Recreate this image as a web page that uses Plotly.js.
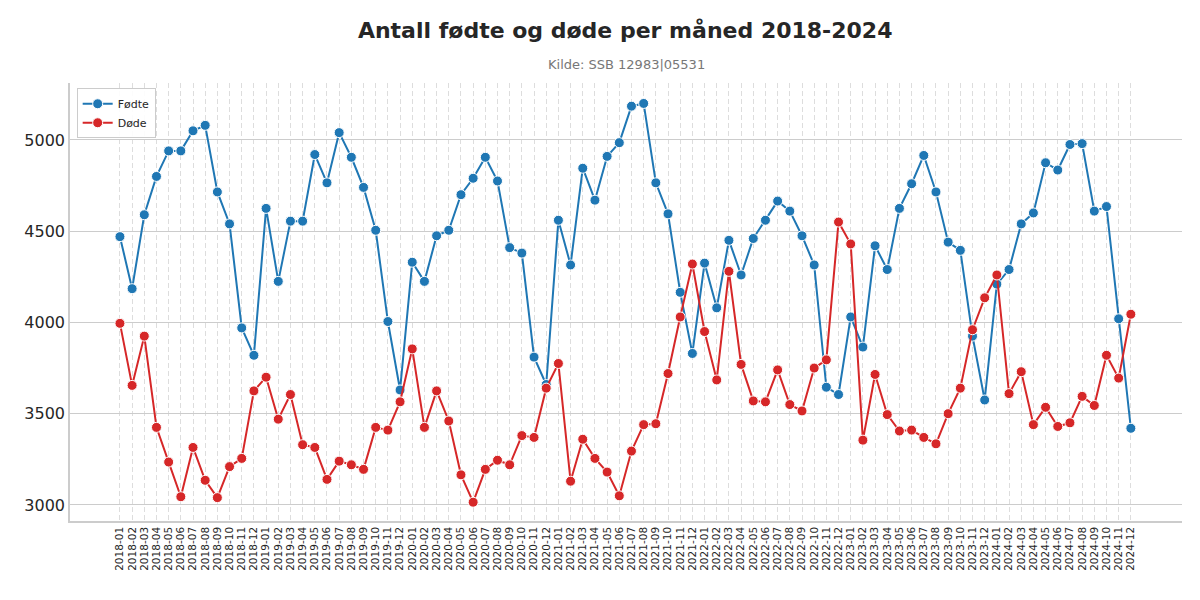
<!DOCTYPE html>
<html>
<head>
<meta charset="utf-8">
<script src="https://cdn.plot.ly/plotly-3.0.1.min.js"></script>
<style>html,body{margin:0;padding:0;background:#fff;}#chart{width:1200px;height:600px;}</style>
</head>
<body>
<div id="chart"></div>
<script>
const months = [];
for (let y = 2018; y <= 2024; y++) for (let m = 1; m <= 12; m++) months.push(y + "-" + String(m).padStart(2, "0"));

const births = [
  4470,4185,4590,4800,4940,4940,5050,5080,4715,4540,3970,3820,
  4625,4225,4555,4555,4920,4765,5040,4905,4740,4505,4005,3630,
  4330,4225,4475,4505,4700,4790,4905,4775,4410,4380,3810,3660,
  4560,4315,4845,4670,4910,4985,5185,5200,4765,4595,4165,3830,
  4325,4080,4450,4260,4460,4560,4665,4610,4475,4315,3645,3605,
  4030,3865,4420,4290,4625,4760,4915,4715,4440,4395,3925,3575,
  4210,4290,4540,4600,4875,4835,4975,4980,4610,4635,4020,3420
];
const deaths = [
  3995,3655,3925,3425,3235,3045,3315,3135,3040,3210,3255,3625,
  3700,3470,3605,3330,3315,3140,3240,3220,3195,3425,3410,3565,
  3855,3425,3625,3460,3165,3015,3195,3245,3220,3380,3370,3640,
  3775,3130,3360,3255,3180,3050,3295,3440,3445,3720,4030,4320,
  3950,3685,4280,3770,3570,3565,3740,3550,3515,3750,3795,4550,
  4430,3355,3715,3495,3405,3410,3370,3335,3500,3640,3960,4135,
  4260,3610,3730,3440,3535,3430,3450,3595,3545,3820,3695,4045
];
const yTicks = [3000, 3500, 4000, 4500, 5000];

const mk = (name, y, color) => ({
  type: "scatter", mode: "lines+markers", name: name,
  x: months, y: y,
  line: {color: color, width: 2},
  marker: {color: color, size: 10, line: {color: "#fff", width: 1}}
});

const data = [mk("Fødte", births, "#1f77b4"), mk("Døde", deaths, "#d62728")];

const layout = {
  width: 1200, height: 600,
  margin: {l: 70, r: 18, t: 83, b: 79},
  paper_bgcolor: "#fff", plot_bgcolor: "#fff",
  font: {family: "DejaVu Sans", color: "#262626"},
  title: {text: "<b>Antall fødte og døde per måned 2018-2024</b>", x: 0.521, xanchor: "center", y: 0.95, yanchor: "middle",
          font: {size: 22, color: "#262626"}},
  annotations: [{text: "Kilde: SSB 12983|05531", xref: "paper", yref: "paper", x: 0.5, y: 1.043, xanchor: "center", yanchor: "middle",
                 showarrow: false, font: {size: 13, color: "#777"}}],
  xaxis: {
    type: "category", range: [-4.1, 87.2], tickangle: -90, tickfont: {size: 10.5, color: "#262626"},
    tickmode: "array", tickvals: months, ticktext: months,
    showgrid: true, gridcolor: "#dddddd", griddash: "5px,3px", gridwidth: 1,
    showline: true, linecolor: "#cccccc", linewidth: 1.5, ticks: "", zeroline: false
  },
  yaxis: {
    range: [2912, 5312], tickvals: yTicks, ticktext: yTicks.map(String),
    tickfont: {size: 16, color: "#262626"},
    showgrid: true, gridcolor: "#cccccc", gridwidth: 1.2,
    showline: true, linecolor: "#cccccc", linewidth: 1.5, ticks: "", zeroline: false
  },
  legend: {x: 0.006, y: 0.988, xanchor: "left", yanchor: "top", bgcolor: "rgba(255,255,255,0.9)",
           bordercolor: "#cccccc", borderwidth: 1, font: {size: 11, color: "#262626"}},
  showlegend: true
};

Plotly.newPlot("chart", data, layout, {displayModeBar: false});
</script>
</body>
</html>
